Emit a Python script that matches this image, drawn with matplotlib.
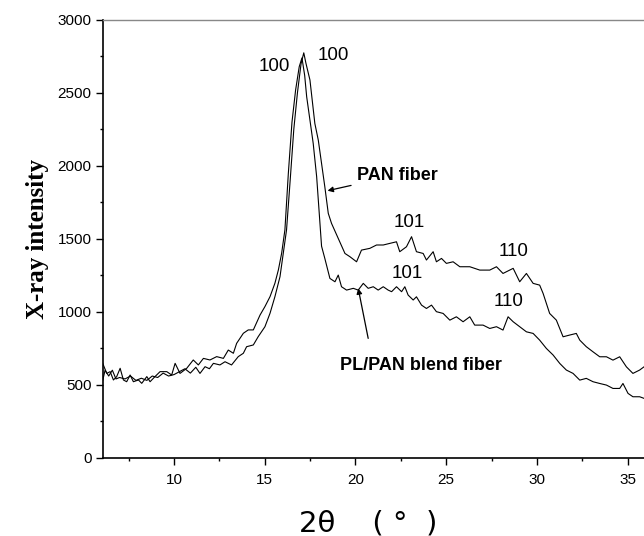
import matplotlib
matplotlib.use("Agg")
import matplotlib.pyplot as plt
from matplotlib.ticker import MultipleLocator

# PAN fiber trace (2theta in degrees, intensity)
pan_x = [6.07, 6.2, 6.4, 6.6, 6.8, 7.0, 7.3, 7.6, 7.9, 8.2, 8.5, 8.8, 9.1, 9.4, 9.7,
         10.0, 10.3, 10.6, 10.9, 11.2, 11.43, 11.71, 11.95, 12.17, 12.53, 12.81, 13.17,
         13.54, 13.82, 14.0, 14.37, 14.64, 15.01, 15.29, 15.56, 15.84, 16.02, 16.2, 16.4,
         16.6, 16.8, 17.0, 17.15, 17.27, 17.49, 17.76, 17.95, 18.13, 18.31, 18.5, 18.68,
         19.05, 19.42, 19.69, 20.06, 20.33, 20.79, 21.16, 21.53, 21.89, 22.26, 22.44,
         22.81, 23.09, 23.36, 23.73, 23.91, 24.28, 24.46, 24.74, 25.01, 25.38, 25.75,
         26.3, 26.85, 27.4, 27.77, 28.13, 28.69, 29.05, 29.42, 29.79, 30.15, 30.34, 30.7,
         31.07, 31.44, 31.81, 32.17, 32.36, 32.72, 33.09, 33.46, 33.83, 34.19, 34.56,
         34.93, 35.29, 35.66, 35.9]
pan_y = [530, 600, 560, 600, 540, 550, 540, 560, 530, 545, 530, 560, 550, 580, 560,
         570, 590, 610, 580, 620, 578, 624, 610, 647, 636, 658, 636,
         693, 716, 761, 773, 830, 898, 990, 1104, 1241, 1401, 1561, 1900,
         2250, 2500, 2700, 2775, 2703, 2589, 2291, 2177, 2017, 1857, 1675, 1606,
         1503, 1400, 1378, 1343, 1423, 1435, 1458, 1458, 1469, 1480, 1412,
         1446, 1515, 1412, 1400, 1355, 1412, 1343, 1366, 1332, 1343, 1309,
         1309, 1286, 1286, 1309, 1263, 1298, 1206, 1263, 1195, 1183, 1126, 989,
         943, 829, 841, 852, 806, 761, 726, 692, 692, 669, 692,
         623, 578, 601, 623]

# PL/PAN blend fiber trace
blend_x = [6.07, 6.29, 6.48, 6.66, 6.84, 7.03, 7.21, 7.39, 7.58, 7.76, 8.04, 8.22, 8.5,
           8.68, 8.95, 9.23, 9.6, 9.87, 10.06, 10.33, 10.7, 11.06, 11.34, 11.62, 11.98,
           12.35, 12.72, 12.99, 13.27, 13.45, 13.82, 14.09, 14.37, 14.74, 15.01, 15.29,
           15.56, 15.75, 15.93, 16.11, 16.3, 16.5, 16.7, 16.9, 17.05, 17.2, 17.31, 17.49,
           17.67, 17.86, 18.0, 18.13, 18.31, 18.59, 18.87, 19.05, 19.23, 19.51, 19.88,
           20.15, 20.43, 20.7, 20.98, 21.25, 21.53, 21.8, 21.99, 22.26, 22.54, 22.72,
           22.9, 23.18, 23.36, 23.64, 23.91, 24.19, 24.46, 24.83, 25.2, 25.56, 25.93,
           26.3, 26.57, 27.03, 27.4, 27.77, 28.13, 28.41, 28.69, 29.05, 29.42, 29.79,
           30.15, 30.52, 30.89, 31.26, 31.62, 31.99, 32.36, 32.72, 33.09, 33.46, 33.83,
           34.19, 34.56, 34.74, 35.02, 35.29, 35.66, 35.9]
blend_y = [647, 578, 590, 533, 556, 613, 533, 521, 567, 521, 533, 510, 556,
           521, 556, 590, 590, 567, 647, 578, 613, 670, 636, 681, 670,
           693, 681, 738, 716, 784, 853, 876, 876, 978, 1036, 1104,
           1196, 1287, 1401, 1561, 1950, 2300, 2520, 2680, 2740, 2620, 2474, 2314,
           2154, 1926, 1680, 1450, 1366, 1229, 1206, 1252, 1172, 1149, 1161,
           1149, 1195, 1161, 1172, 1149, 1172, 1149, 1138, 1172, 1138, 1172,
           1115, 1081, 1103, 1046, 1023, 1046, 1001, 989, 943, 966, 932,
           966, 909, 909, 886, 898, 875, 966, 932, 898, 863, 852,
           806, 749, 704, 646, 601, 578, 532, 544, 521, 509, 498,
           475, 475, 509, 441, 418, 418, 407]

# peak labels: (text, x, y)
peak_labels = [("100", 15.5, 2680), ("100", 18.8, 2760),
               ("101", 22.95, 1615), ("110", 28.7, 1412),
               ("101", 22.85, 1263), ("110", 28.45, 1069)]

fig = plt.figure(figsize=(6.44, 5.36), dpi=100)
ax = fig.add_axes([0.1595, 0.146, 0.8405, 0.8167])

ax.plot(pan_x, pan_y, color="black", lw=0.8)
ax.plot(blend_x, blend_y, color="black", lw=0.8)

ax.set_xlim(6.07, 35.9)
ax.set_ylim(0, 3000)
ax.xaxis.set_major_locator(MultipleLocator(5))
ax.xaxis.set_minor_locator(MultipleLocator(2.5))
ax.yaxis.set_major_locator(MultipleLocator(500))
ax.yaxis.set_minor_locator(MultipleLocator(250))

for s in ["left", "bottom"]:
    ax.spines[s].set_linewidth(1.2)
ax.spines["right"].set_visible(False)
ax.spines["top"].set_color("#888888")
ax.spines["top"].set_linewidth(1.0)

ax.tick_params(which="major", direction="out", length=5, width=1.0,
               labelsize=11, top=False, right=False)
ax.tick_params(which="minor", direction="out", length=2.5, width=1.0,
               top=False, right=False)
ax.tick_params(axis="x", which="major", pad=6)
ax.tick_params(axis="y", which="major", pad=3)
for lab in ax.get_xticklabels() + ax.get_yticklabels():
    lab.set_family("Liberation Sans")

ax.set_ylabel("X-ray intensity", family="Liberation Serif", fontweight="bold",
              fontsize=18, labelpad=6)
# x label, spaced out like the original
fig.text(0.464, 0.024, "2θ    ( °  )", ha="left", va="center", fontsize=21,
         family="DejaVu Sans")

for txt, tx, ty in peak_labels:
    ax.text(tx, ty, txt, ha="center", va="center", fontsize=13.5,
            family="Liberation Sans")

ax.annotate("PAN fiber", xy=(18.46, 1830), xytext=(20.06, 1937),
            fontsize=13, fontweight="bold", family="Liberation Sans",
            ha="left", va="center",
            arrowprops=dict(arrowstyle="-|>", color="black", lw=0.9,
                            mutation_scale=8, shrinkA=2, shrinkB=0))
ax.annotate("PL/PAN blend fiber", xy=(20.15, 1161), xytext=(19.14, 630),
            fontsize=13, fontweight="bold", family="Liberation Sans",
            ha="left", va="center")
ax.annotate("", xy=(20.15, 1161), xytext=(20.7, 818),
            arrowprops=dict(arrowstyle="-|>", color="black", lw=0.9,
                            mutation_scale=8, shrinkA=0, shrinkB=0))

fig.savefig("out.png", dpi=100)
